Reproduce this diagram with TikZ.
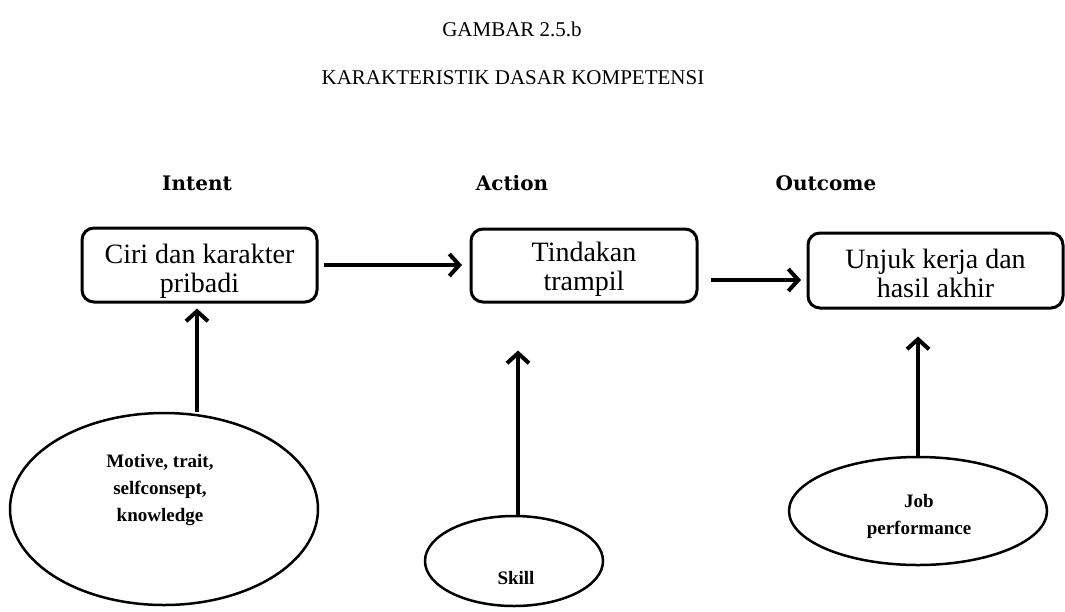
\documentclass[tikz,border=0pt]{standalone}
\usepackage{fontspec}
\setmainfont{Liberation Serif}
\newfontfamily\hdfont{DejaVu Serif}
\usetikzlibrary{arrows.meta,shapes.geometric}
\newcommand{\bxtext}[3]{\rule{0pt}{#1}#2\\#3\rule[-8pt]{0pt}{0pt}}
\begin{document}
\begin{tikzpicture}[x=1pt,y=-1pt,
  box/.style={draw, line width=3pt, rounded corners=12pt, align=center, inner sep=0pt,
    font=\fontsize{28}{29}\selectfont},
  oval/.style={draw, ellipse, line width=2.5pt, inner sep=0pt},
  ovaltext/.style={align=center, inner sep=0pt, font=\bfseries\fontsize{19}{27}\selectfont},
  hd/.style={inner sep=0pt, font=\hdfont\bfseries\fontsize{20}{22}\selectfont},
  ttl/.style={inner sep=0pt, font=\fontsize{21}{24}\selectfont},
  arr/.style={line width=4.5pt, -{Straight Barb[length=10pt,width=22pt,line width=4pt]}}]
\useasboundingbox (0,0) rectangle (1065,611);
% titles
\node[ttl] (t1) at (512,29) {GAMBAR 2.5.b};
\node[ttl] (t2) at (513,78) {KARAKTERISTIK DASAR KOMPETENSI};
% headers
\node[hd] (h1) at (197,183) {Intent};
\node[hd] (h2) at (512,183) {Action};
\node[hd] (h3) at (826,183) {Outcome};
% boxes
\node[box, minimum width=235pt, minimum height=74pt] (b1) at (199.5,265) {\bxtext{34pt}{Ciri dan karakter}{pribadi}};
\node[box, minimum width=226pt, minimum height=73pt] (b2) at (584,265.5) {\bxtext{28pt}{Tindakan}{trampil}};
\node[box, minimum width=255pt, minimum height=75pt] (b3) at (935.5,270.5) {\bxtext{32pt}{Unjuk kerja dan}{hasil akhir}};
% ellipses
\node[oval, minimum width=308pt, minimum height=192pt] (e1) at (164,509) {};
\node[oval, minimum width=178pt, minimum height=90pt] (e2) at (514,561) {};
\node[oval, minimum width=258pt, minimum height=108pt] (e3) at (918,511) {};
\node[ovaltext] (m1) at (160,490) {Motive, trait,\\selfconsept,\\knowledge};
\node[ovaltext] (m2) at (516,578) {Skill};
\node[ovaltext] (m3) at (919,516) {Job\\performance};
% horizontal arrows
\coordinate (p1) at (462,265);
\draw[arr] ([xshift=5pt]b1.east |- p1) -- (p1);
\coordinate (q1) at (711,280);
\coordinate (q2) at (801,280);
\draw[arr] (q1) -- (q2);
% vertical arrows
\coordinate (x1) at (197,0);
\coordinate (x2) at (518,0);
\coordinate (x3) at (918,0);
\draw[arr] (x1 |- e1.north) -- ([yshift=-5pt]x1 |- b1.south);
\draw[arr] (x2 |- e2.north) -- ([yshift=-47pt]x2 |- b2.south);
\draw[arr] (x3 |- e3.north) -- ([yshift=-27pt]x3 |- b3.south);
\end{tikzpicture}
\end{document}
